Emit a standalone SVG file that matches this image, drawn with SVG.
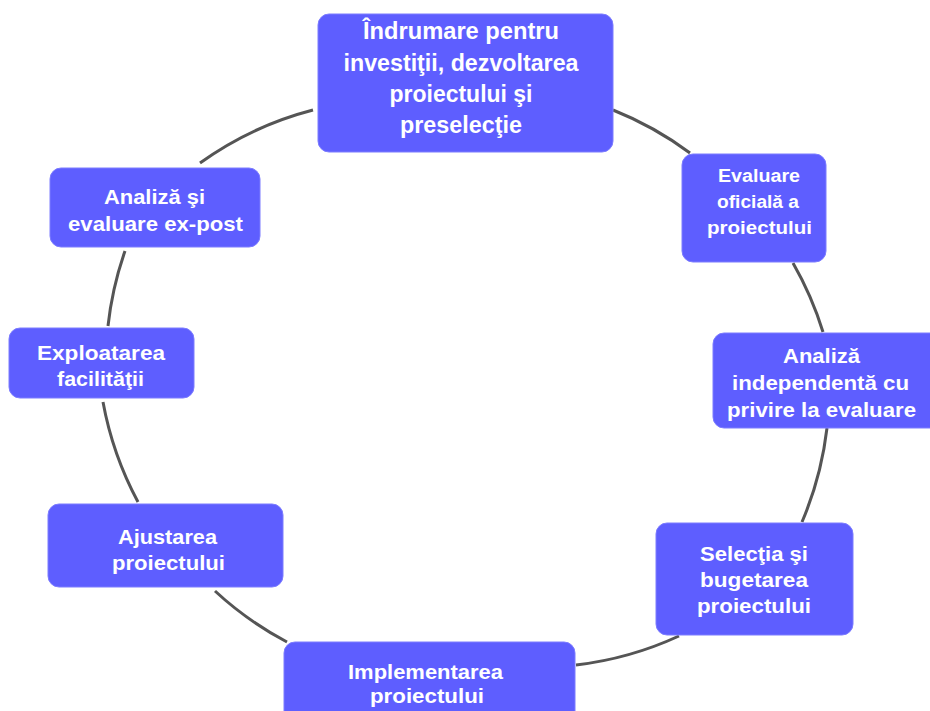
<svg xmlns="http://www.w3.org/2000/svg" width="930" height="711" viewBox="0 0 930 711">
<style>
.box{fill:#5E5EFF;stroke:#7C7CFF;stroke-width:1}
.t{fill:#FFFFFF;font-family:"Liberation Sans",Arial,sans-serif;font-weight:bold;text-anchor:middle}
.c{fill:none;stroke:#555555;stroke-width:3}
</style>
<rect width="930" height="711" fill="#FFFFFF"/>
<g id="connectors">
<path class="c" d="M613,110 A340,340 0 0,1 690,153"/>
<path class="c" d="M793,263 A340,340 0 0,1 823,332"/>
<path class="c" d="M827,428 A340,340 0 0,1 802,522"/>
<path class="c" d="M679,636 A340,340 0 0,1 576,665"/>
<path class="c" d="M287,642 A340,340 0 0,1 215,591"/>
<path class="c" d="M138,502 A340,340 0 0,1 103,402"/>
<path class="c" d="M108,326 A340,340 0 0,1 125,251"/>
<path class="c" d="M200,163 A340,340 0 0,1 313,110"/>
</g>
<g id="n1">
<rect class="box" x="318" y="14" width="295" height="138" rx="11"/>
<text class="t" font-size="23" x="461" y="39" textLength="196" lengthAdjust="spacingAndGlyphs">Îndrumare pentru</text>
<text class="t" font-size="23" x="461" y="71" textLength="235" lengthAdjust="spacingAndGlyphs">investiţii, dezvoltarea</text>
<text class="t" font-size="23" x="461" y="102" textLength="143" lengthAdjust="spacingAndGlyphs">proiectului şi</text>
<text class="t" font-size="23" x="461" y="133" textLength="122" lengthAdjust="spacingAndGlyphs">preselecţie</text>
</g>
<g id="n2">
<rect class="box" x="682" y="154" width="144" height="108" rx="11"/>
<text class="t" font-size="18" x="759" y="182" textLength="82" lengthAdjust="spacingAndGlyphs">Evaluare</text>
<text class="t" font-size="18" x="758" y="208" textLength="82" lengthAdjust="spacingAndGlyphs">oficială a</text>
<text class="t" font-size="18" x="759.5" y="234" textLength="105" lengthAdjust="spacingAndGlyphs">proiectului</text>
</g>
<g id="n3">
<rect class="box" x="713" y="333" width="240" height="95" rx="11"/>
<text class="t" font-size="20" x="821.5" y="363" textLength="77" lengthAdjust="spacingAndGlyphs">Analiză</text>
<text class="t" font-size="20" x="820.5" y="390" textLength="177" lengthAdjust="spacingAndGlyphs">independentă cu</text>
<text class="t" font-size="20" x="821.5" y="417" textLength="189" lengthAdjust="spacingAndGlyphs">privire la evaluare</text>
</g>
<g id="n4">
<rect class="box" x="656" y="523" width="197" height="112" rx="11"/>
<text class="t" font-size="20" x="754" y="561" textLength="108" lengthAdjust="spacingAndGlyphs">Selecţia şi</text>
<text class="t" font-size="20" x="754" y="587" textLength="108" lengthAdjust="spacingAndGlyphs">bugetarea</text>
<text class="t" font-size="20" x="754" y="613" textLength="114" lengthAdjust="spacingAndGlyphs">proiectului</text>
</g>
<g id="n5">
<rect class="box" x="284" y="642" width="291" height="85" rx="11"/>
<text class="t" font-size="20" x="425.5" y="679" textLength="155" lengthAdjust="spacingAndGlyphs">Implementarea</text>
<text class="t" font-size="20" x="427" y="703" textLength="114" lengthAdjust="spacingAndGlyphs">proiectului</text>
</g>
<g id="n6">
<rect class="box" x="48" y="504" width="235" height="83" rx="11"/>
<text class="t" font-size="20" x="167.5" y="544" textLength="99" lengthAdjust="spacingAndGlyphs">Ajustarea</text>
<text class="t" font-size="20" x="168.5" y="570" textLength="113" lengthAdjust="spacingAndGlyphs">proiectului</text>
</g>
<g id="n7">
<rect class="box" x="9" y="328" width="185" height="70" rx="11"/>
<text class="t" font-size="20" x="101" y="360" textLength="128" lengthAdjust="spacingAndGlyphs">Exploatarea</text>
<text class="t" font-size="20" x="100.5" y="386" textLength="87" lengthAdjust="spacingAndGlyphs">facilităţii</text>
</g>
<g id="n8">
<rect class="box" x="50" y="168" width="210" height="79" rx="11"/>
<text class="t" font-size="20" x="154.5" y="204" textLength="101" lengthAdjust="spacingAndGlyphs">Analiză şi</text>
<text class="t" font-size="20" x="155.5" y="231" textLength="175" lengthAdjust="spacingAndGlyphs">evaluare ex-post</text>
</g>
</svg>
